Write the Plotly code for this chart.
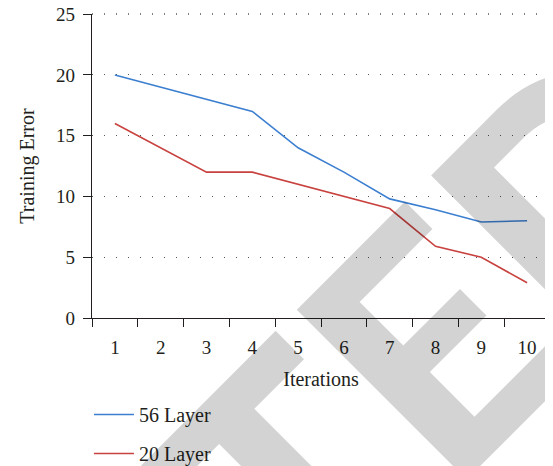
import plotly.graph_objects as go

iterations = ["1", "2", "3", "4", "5", "6", "7", "8", "9", "10"]
layer56 = [20, 19, 18, 17, 14, 12, 9.8, 8.9, 7.9, 8.0]
layer20 = [16, 14, 12, 12, 11, 10, 9.0, 5.9, 5.0, 2.9]
y_ticks = [0, 5, 10, 15, 20, 25]

TXT = "#231f20"
SERIF = "Liberation Serif, Times New Roman, serif"

fig = go.Figure()
fig.add_trace(go.Scatter(x=iterations, y=layer56, mode="lines", name="56 Layer",
                         line=dict(color="#3c7fd0", width=1.6), legendgroup="a"))
fig.add_trace(go.Scatter(x=iterations, y=layer20, mode="lines", name="20 Layer",
                         line=dict(color="#c8423f", width=1.6), legendgroup="b"))

# the page body adds an 8px offset, so the figure is 8px smaller than the window
fig.update_layout(
    width=545, height=458,
    margin=dict(l=84, r=3, t=6, b=148, autoexpand=False),
    paper_bgcolor="white", plot_bgcolor="white",
    font=dict(family=SERIF, size=19, color=TXT),
    showlegend=True,
    legend=dict(x=-0.0066, y=-0.2533, xanchor="left", yanchor="top",
                orientation="v", tracegroupgap=10, itemwidth=40,
                font=dict(family=SERIF, size=20, color=TXT),
                bgcolor="rgba(0,0,0,0)"),
    xaxis=dict(
        type="category", range=[-0.5, 9.5], tickson="boundaries",
        ticks="outside", ticklen=8, tickwidth=1.2, tickcolor=TXT,
        showline=True, linecolor=TXT, linewidth=1.4, automargin=False,
        showgrid=False, zeroline=False, ticklabelstandoff=12,
        ticklabeloverflow="allow",
        title=dict(text="Iterations", font=dict(size=20), standoff=14),
    ),
    yaxis=dict(
        range=[0, 25.01], tickvals=y_ticks, ticks="outside", ticklen=8,
        tickwidth=1.2, tickcolor=TXT, automargin=False,
        showline=True, linecolor=TXT, linewidth=1.4,
        showgrid=True, gridcolor="#555555", gridwidth=1.3, griddash="1px,11px",
        zeroline=False, ticklabelstandoff=4, ticklabeloverflow="allow",
        title=dict(text="Training Error", font=dict(size=20), standoff=16),
    ),
)

# top dotted gridline at the last tick (plotly drops the one on the plot edge)
fig.add_shape(type="line", xref="paper", yref="paper", x0=0, x1=1, y0=1, y1=1,
              line=dict(color="#555555", width=1.3, dash="1px,11px"), layer="below")

fig.add_annotation(
    text="RETRACTED", xref="paper", yref="paper", x=-0.2072, y=-1.480,
    xanchor="center", yanchor="middle", showarrow=False, textangle=-45,
    font=dict(family="Lato, Liberation Sans, Arial, sans-serif",
              size=331, color="rgba(0,0,0,0.172)", weight=900),
)

fig.write_html("out.html")
